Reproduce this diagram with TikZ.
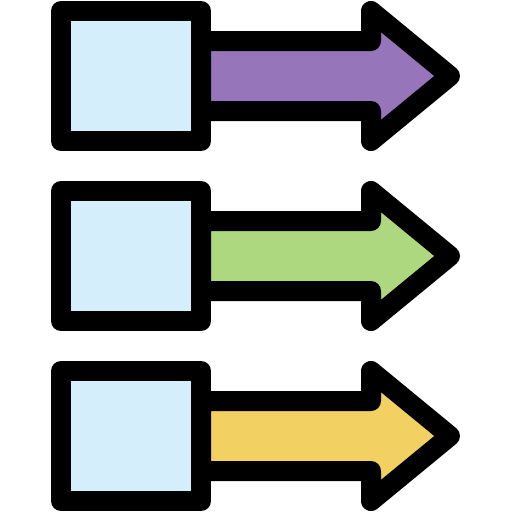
\documentclass[tikz,border=0pt]{standalone}
\definecolor{boxblue}{RGB}{212,238,252}
\definecolor{arrowpurple}{RGB}{150,117,186}
\definecolor{arrowgreen}{RGB}{174,216,128}
\definecolor{arrowyellow}{RGB}{242,208,98}
\begin{document}
\begin{tikzpicture}[x=1pt,y=-1pt,
  outlined/.style={draw=black, line width=20pt, line join=round},
  boxshape/.style={outlined, fill=boxblue},
  arrowshape/.style={outlined}]
\useasboundingbox (0,0) rectangle (512,512);
\foreach \dy/\col in {0/arrowpurple,180/arrowgreen,360/arrowyellow} {
  \begin{scope}[shift={(0,\dy)}]
    \path[arrowshape, fill=\col] (201,41) -- (371,41) -- (371,11) -- (450,76)
      -- (371,141) -- (371,111) -- (201,111) -- cycle;
    \path[boxshape] (61,11) rectangle (201,141);
  \end{scope}
}
\end{tikzpicture}
\end{document}
